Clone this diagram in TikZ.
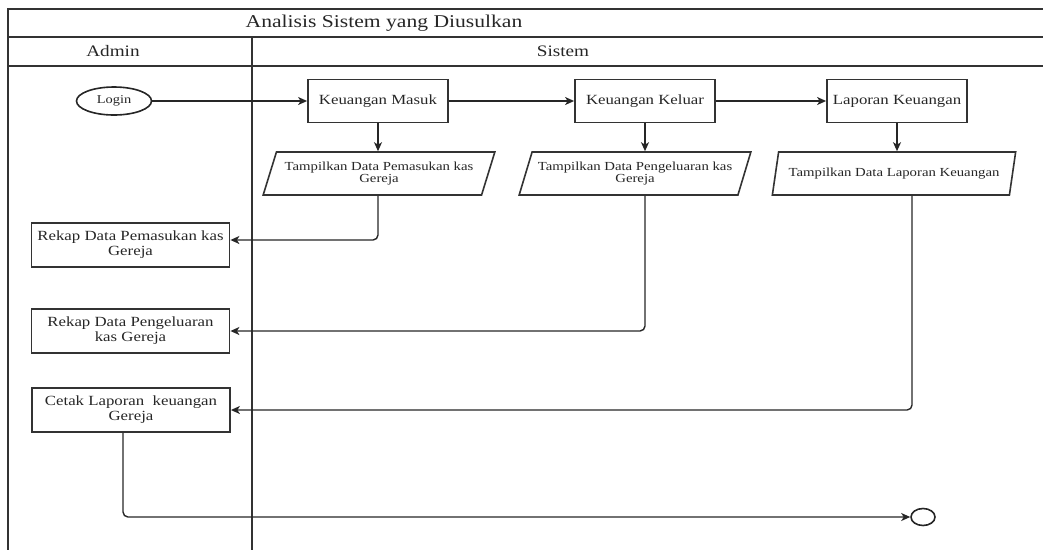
\documentclass[tikz,border=0pt]{standalone}
\usepackage{fontspec}
\setmainfont{Liberation Serif}[FakeStretch=1.2]
\usetikzlibrary{arrows.meta,shapes.geometric}
\begin{document}
\begin{tikzpicture}[x=1pt,y=-1pt,
  frame/.style={draw=black!80,line width=1.6pt},
  lbl/.style={text=black!85,inner sep=0pt},
  box/.style={draw=black!80,line width=1.8pt,minimum width=140pt,minimum height=43pt,inner sep=1pt,align=center,text=black!85,font=\fontsize{14}{15}\selectfont},
  lbox/.style={box,minimum width=198pt,minimum height=44pt},
  para/.style={draw=black!80,line width=1.6pt,trapezium,trapezium left angle=63,trapezium right angle=117,trapezium stretches=true,minimum height=43pt,inner sep=0pt,align=center,text=black!85,font=\fontsize{12.3}{12.8}\selectfont},
  oval/.style={draw=black!85,line width=1.6pt,ellipse,inner sep=0pt,text=black!85},
  conn/.style={draw=black!85,line width=1.4pt,rounded corners=5pt,-{Stealth[length=9pt,width=8pt,inset=2.5pt]}}
]
\useasboundingbox (0,0) rectangle (1043,550);
% swimlane frame
\draw[frame] (1043,9) -- (8,9) -- (8,550);
\draw[frame] (8,37) -- (1043,37);
\draw[frame] (8,66) -- (1043,66);
\draw[frame] (252,37) -- (252,550);
\node[lbl,font=\fontsize{18}{20}\selectfont] (title) at (384,23) {Analisis Sistem yang Diusulkan};
\node[lbl,font=\fontsize{16}{18}\selectfont] (admin) at (113,51.5) {Admin};
\node[lbl,font=\fontsize{16}{18}\selectfont] (sistem) at (563,51.5) {Sistem};
% nodes
\node[oval,minimum width=75pt,minimum height=28pt,font=\fontsize{12}{13}\selectfont] (login) at (114,101) {Login};
\node[box] (km) at (378,101) {Keuangan Masuk};
\node[box] (kk) at (645,101) {Keuangan Keluar};
\node[box] (lk) at (897,101) {Laporan Keuangan};
\node[para,minimum width=232pt] (p1) at (379,173.5) {Tampilkan Data Pemasukan kas\\Gereja};
\node[para,minimum width=232pt] (p2) at (635,173.5) {Tampilkan Data Pengeluaran kas\\Gereja};
\node[para,minimum width=244pt] (p3) at (894,173.5) {Tampilkan Data Laporan Keuangan};
\node[lbox] (r1) at (130.5,245) {Rekap Data Pemasukan kas\\Gereja};
\node[lbox] (r2) at (130.5,331) {Rekap Data Pengeluaran\\kas Gereja};
\node[lbox] (r3) at (131,410) {Cetak Laporan~ keuangan\\Gereja};
\node[oval,minimum width=24pt,minimum height=17pt] (end) at (923,517) {};
% connectors
\draw[conn] (login) -- (km);
\draw[conn] (km) -- (kk);
\draw[conn] (kk) -- (lk);
\draw[conn] (km.south) -- (km.south |- p1.north);
\draw[conn] (kk.south) -- (kk.south |- p2.north);
\draw[conn] (lk.south) -- (lk.south |- p3.north);
\draw[conn] (km.south |- p1.south) |- ([yshift=5pt]r1.east);
\draw[conn] (kk.south |- p2.south) |- (r2.east);
\draw[conn] ([xshift=18pt]p3.south) |- (r3.east);
\draw[conn] ([xshift=-8pt]r3.south) |- (end.west);
\end{tikzpicture}
\end{document}
